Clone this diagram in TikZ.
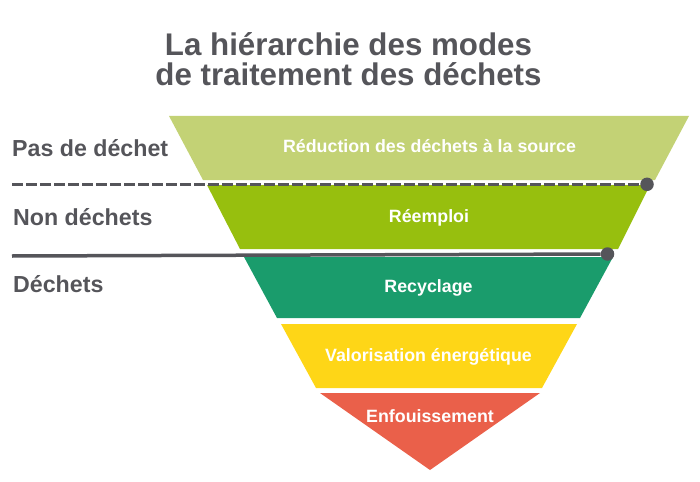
\documentclass[tikz,border=0pt]{standalone}
\usepackage{fontspec}
\setmainfont{Liberation Sans}
\definecolor{txtgray}{RGB}{85,85,90}
\definecolor{bandA}{RGB}{195,210,117}
\definecolor{bandB}{RGB}{151,191,14}
\definecolor{bandC}{RGB}{26,156,108}
\definecolor{bandD}{RGB}{254,214,23}
\definecolor{bandE}{RGB}{234,96,74}
\begin{document}
\begin{tikzpicture}[x=1pt,y=-1pt,
  bandtext/.style={text=white,font=\bfseries\fontsize{17.8}{20}\selectfont,anchor=base,inner sep=0pt},
  sidetext/.style={text=txtgray,font=\bfseries\fontsize{23.2}{26}\selectfont,anchor=base west,inner sep=0pt},
  dotend/.style={circle,fill=txtgray,minimum size=13.5pt,inner sep=0pt},
  sepline/.style={draw=txtgray,line width=3.5pt}]
\useasboundingbox (0,0) rectangle (700,481);
% bands
\fill[bandA] (169,116) -- (689,116) -- (655,180) -- (203,180) -- cycle;
\fill[bandB] (207,185) -- (650,185) -- (618,249) -- (240,249) -- cycle;
\fill[bandC] (244,257) -- (613,257) -- (580,318) -- (277,318) -- cycle;
\fill[bandD] (281,324) -- (577,324) -- (542,388) -- (316,388) -- cycle;
\fill[bandE] (320,393) -- (540,393) -- (430,470) -- cycle;
% title
\node[text=txtgray,font=\bfseries\fontsize{31.3}{30}\selectfont,align=center,anchor=base,inner sep=0pt] (title) at (348.5,86) {La hiérarchie des modes\\de traitement des déchets};
% band labels
\node[bandtext] (t1) at (429.5,153) {Réduction des déchets à la source};
\node[bandtext] (t2) at (429,222) {Réemploi};
\node[bandtext] (t3) at (428.5,292.3) {Recyclage};
\node[bandtext] (t4) at (428.5,361.7) {Valorisation énergétique};
\node[bandtext] (t5) at (430,422) {Enfouissement};
% side labels
\node[sidetext] (s1) at (12,157) {Pas de déchet};
\node[sidetext] (s2) at (13,225) {Non déchets};
\node[sidetext] (s3) at (13,292) {Déchets};
% separators
\coordinate (d0) at (12,184.3);
\coordinate (l0) at (12,256);
\node[dotend] (d1) at (647,184.3) {};
\node[dotend] (l1) at (607.5,254) {};
\draw[sepline,line width=3.3pt,dash pattern=on 10.5pt off 3.5pt] (d0) -- (d1);
\draw[sepline] (l0) -- (l1);
\end{tikzpicture}
\end{document}
